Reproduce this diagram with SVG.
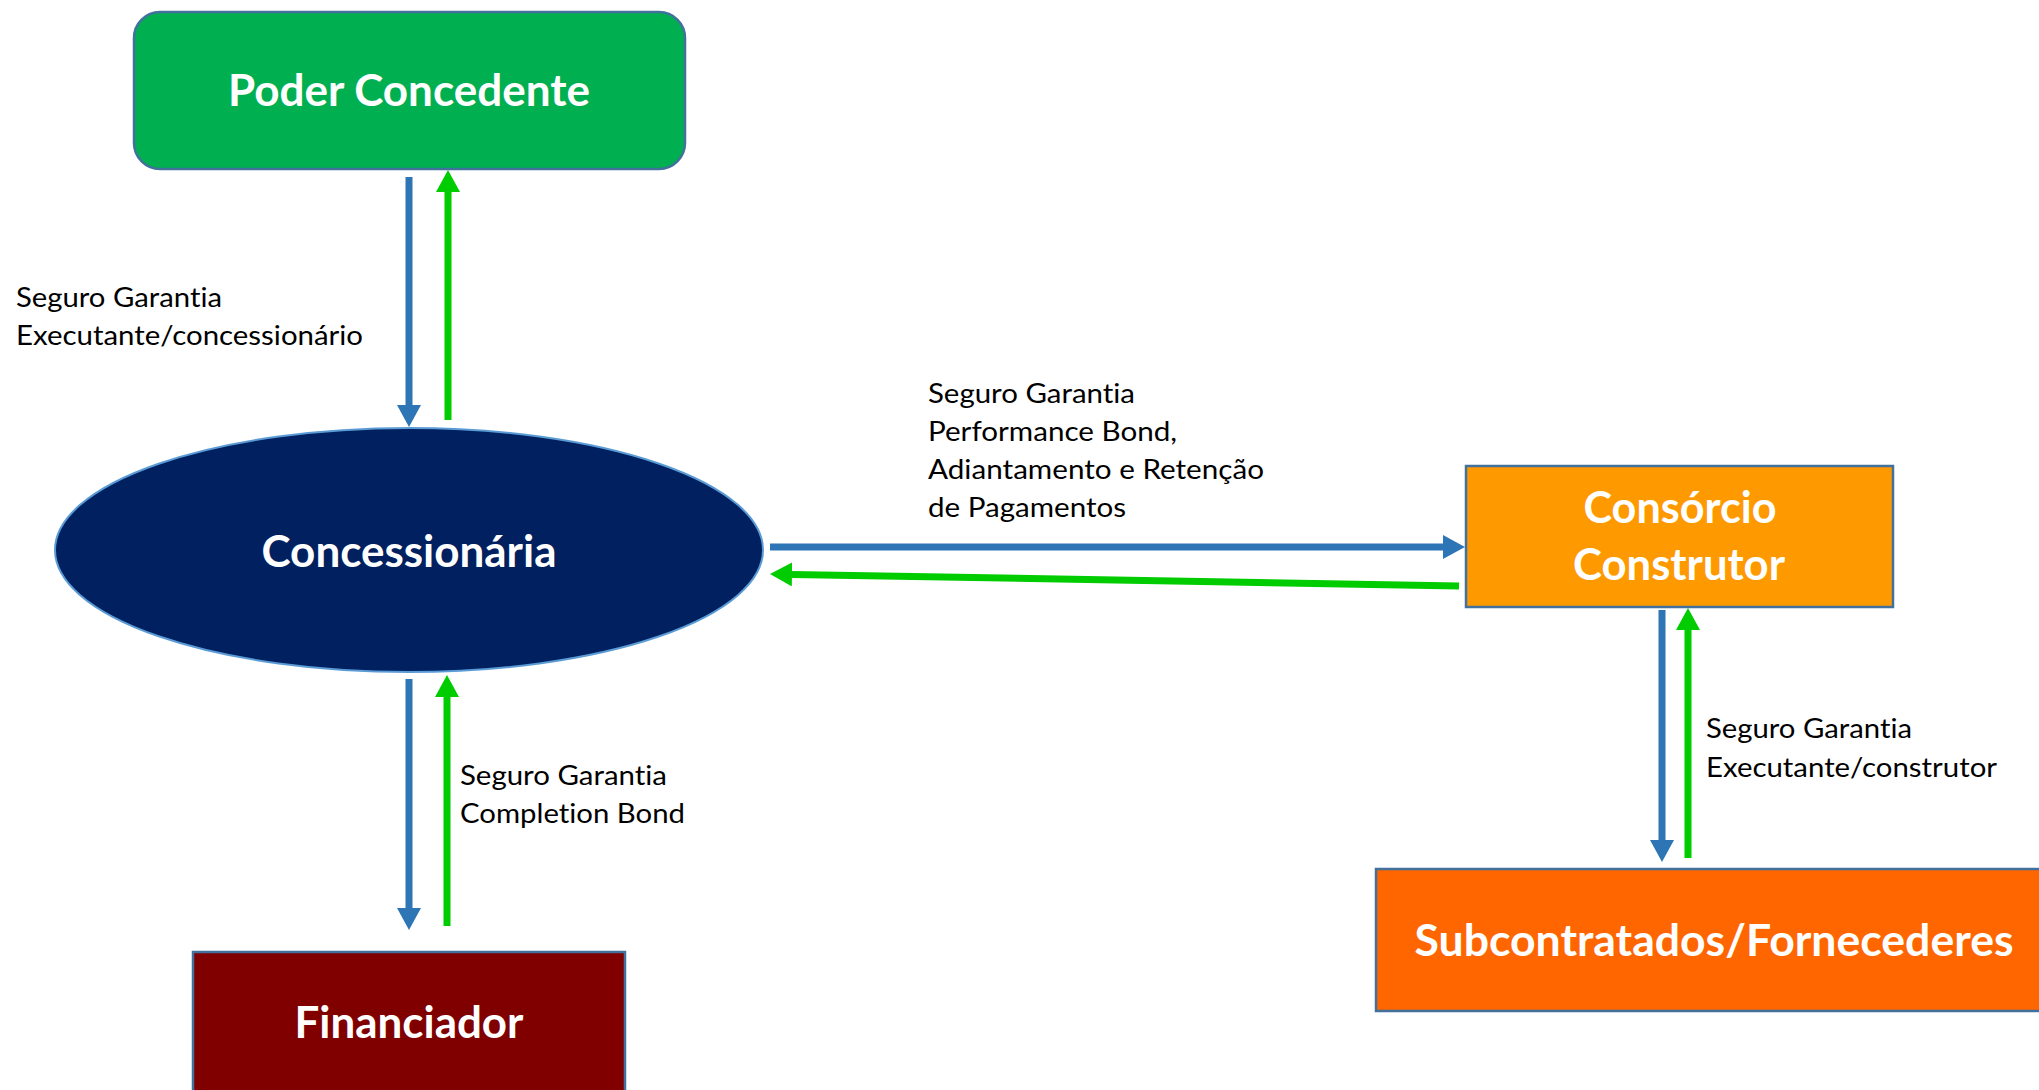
<svg xmlns="http://www.w3.org/2000/svg" width="2039" height="1090" viewBox="0 0 2039 1090">
<style>
text{font-variant-ligatures:none;font-feature-settings:"liga" 0,"clig" 0}
.title{font-family:Lato,"Open Sans","Liberation Sans",sans-serif;font-weight:bold;fill:#ffffff;font-size:43px;text-anchor:middle}
.lbl{font-family:Lato,"Open Sans","Liberation Sans",sans-serif;fill:#000000;font-size:27px}
.blue{stroke:#2E75B6;stroke-width:7;fill:none}
.green{stroke:#00CC00;stroke-width:7;fill:none}
.box{stroke:#41719C;stroke-width:2.5}
</style>
<defs>
<marker id="hb" viewBox="0 0 22 24" refX="0" refY="12" markerWidth="22" markerHeight="24" orient="auto" markerUnits="userSpaceOnUse"><path d="M0,0 L22,12 L0,24 z" fill="#2E75B6"/></marker>
<marker id="hg" viewBox="0 0 22 24" refX="0" refY="12" markerWidth="22" markerHeight="24" orient="auto" markerUnits="userSpaceOnUse"><path d="M0,0 L22,12 L0,24 z" fill="#00CC00"/></marker>
</defs>
<rect width="2039" height="1090" fill="#ffffff"/>
<g id="connectors">
<line class="blue" x1="409" y1="177" x2="409" y2="405" marker-end="url(#hb)"/>
<line class="green" x1="448" y1="420" x2="448" y2="192" marker-end="url(#hg)"/>
<line class="blue" x1="409" y1="679" x2="409" y2="908" marker-end="url(#hb)"/>
<line class="green" x1="447" y1="926" x2="447" y2="697" marker-end="url(#hg)"/>
<line class="blue" x1="770" y1="547" x2="1443" y2="547" marker-end="url(#hb)"/>
<line class="green" x1="1459" y1="586" x2="792" y2="574.4" marker-end="url(#hg)"/>
<line class="blue" x1="1662" y1="610" x2="1662" y2="840" marker-end="url(#hb)"/>
<line class="green" x1="1688" y1="858" x2="1688" y2="630" marker-end="url(#hg)"/>
<text class="lbl" x="16" y="307" textLength="206" lengthAdjust="spacingAndGlyphs">Seguro Garantia</text>
<text class="lbl" x="16" y="345" textLength="347" lengthAdjust="spacingAndGlyphs">Executante/concessionário</text>
<text class="lbl" x="928" y="403" textLength="207" lengthAdjust="spacingAndGlyphs">Seguro Garantia</text>
<text class="lbl" x="928" y="441" textLength="249" lengthAdjust="spacingAndGlyphs">Performance Bond,</text>
<text class="lbl" x="928" y="479" textLength="336" lengthAdjust="spacingAndGlyphs">Adiantamento e Retenção</text>
<text class="lbl" x="928" y="517" textLength="198" lengthAdjust="spacingAndGlyphs">de Pagamentos</text>
<text class="lbl" x="460" y="785" textLength="207" lengthAdjust="spacingAndGlyphs">Seguro Garantia</text>
<text class="lbl" x="460" y="823" textLength="225" lengthAdjust="spacingAndGlyphs">Completion Bond</text>
<text class="lbl" x="1706" y="738" textLength="206" lengthAdjust="spacingAndGlyphs">Seguro Garantia</text>
<text class="lbl" x="1706" y="777" textLength="291" lengthAdjust="spacingAndGlyphs">Executante/construtor</text>
</g>
<g id="poder-concedente">
<rect class="box" x="134" y="12" width="551" height="157" rx="26" ry="26" fill="#00B050"/>
<text class="title" x="409" y="106" textLength="362" lengthAdjust="spacingAndGlyphs">Poder Concedente</text>
</g>
<g id="concessionaria">
<ellipse cx="409" cy="550" rx="354" ry="122" fill="#002060" stroke="#5B9BD5" stroke-width="2"/>
<text class="title" x="409" y="567" textLength="295" lengthAdjust="spacingAndGlyphs">Concessionária</text>
</g>
<g id="consorcio-construtor">
<rect class="box" x="1466" y="466" width="427" height="141" fill="#FF9900"/>
<text class="title" x="1680" y="523" textLength="193" lengthAdjust="spacingAndGlyphs">Consórcio</text>
<text class="title" x="1679" y="580" textLength="212" lengthAdjust="spacingAndGlyphs">Construtor</text>
</g>
<g id="subcontratados">
<rect class="box" x="1376" y="869" width="690" height="142" fill="#FF6600"/>
<text class="title" x="1714" y="956" textLength="599" lengthAdjust="spacingAndGlyphs">Subcontratados/Fornecederes</text>
</g>
<g id="financiador">
<rect class="box" x="193" y="952" width="432" height="160" fill="#800000"/>
<text class="title" x="409" y="1038" textLength="229" lengthAdjust="spacingAndGlyphs">Financiador</text>
</g>
</svg>
